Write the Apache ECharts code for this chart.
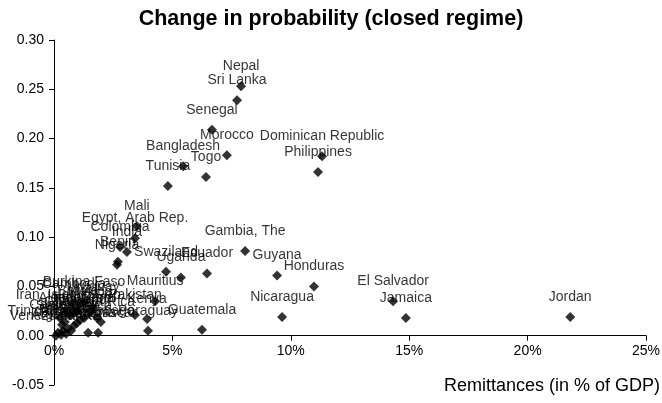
<!DOCTYPE html>
<html>
<head>
<meta charset="utf-8">
<script src="https://cdn.jsdelivr.net/npm/echarts@6/dist/echarts.min.js"></script>
<style>html,body{margin:0;padding:0;background:#fff}#c{width:662px;height:403px}</style>
</head>
<body>
<div id="c"></div>
<script>
// Country names, remittances (% of GDP) and change in probability
const countries = [
  "Nepal","Sri Lanka","Senegal","Morocco","Togo","Bangladesh","Tunisia",
  "Dominican Republic","Philippines","Gambia, The","Guyana","Honduras",
  "Nicaragua","El Salvador","Jamaica","Jordan",
  "Mali","Egypt, Arab Rep.","Colombia","India","Benin","Nigeria",
  "Swaziland","Uganda","Ecuador","Mauritius","Pakistan","Kenya","Paraguay","Guatemala",
  "Burkina Faso","Cambodia","Iran, Islamic Rep.","Trinidad and Tobago","Venezuela, RB",
  "Brazil","Argentina","China","Chile","Malaysia","South Africa","Turkey","Thailand",
  "Indonesia","Tanzania","Madagascar","Costa Rica","Peru","Mexico","Algeria","Ghana",
  "Bolivia","Cameroon","Uruguay"
];
const remittances = [
  7.90,7.73,6.67,7.30,6.42,5.45,4.81,
  11.32,11.15,8.07,9.42,10.98,
  9.63,14.32,14.86,21.80,
  3.50,3.42,2.79,3.08,2.70,2.66,
  4.73,5.36,6.46,4.27,3.42,3.93,3.97,6.25,
  1.27,0.84,0.68,0.72,0.08,
  0.17,0.30,0.38,0.51,0.59,0.84,0.97,1.10,
  1.27,1.44,1.86,1.98,1.82,1.52,0.25,0.46,
  1.01,0.34,1.65
];
const probChange = [
  0.253,0.239,0.209,0.183,0.161,0.172,0.152,
  0.182,0.166,0.086,0.061,0.050,
  0.019,0.035,0.018,0.019,
  0.111,0.099,0.090,0.085,0.075,0.072,
  0.065,0.059,0.063,0.035,0.021,0.017,0.005,0.006,
  0.034,0.032,0.021,0.005,0.000,
  0.003,0.001,0.005,0.002,0.007,0.010,0.013,0.016,
  0.018,0.003,0.003,0.014,0.018,0.024,0.018,0.014,
  0.025,0.011,0.029
];
const yTicks = [-0.05,0,0.05,0.10,0.15,0.20,0.25,0.30];
const xTicks = [0,5,10,15,20,25];

const pts = countries.map((n,i)=>({name:n, value:[remittances[i], probChange[i]]}));
const FONT = '"Liberation Sans", Arial, sans-serif';

const GRID = {left:54,right:16,top:40,bottom:18};
const H = 403;
const yMin = yTicks[0], yMax = yTicks[yTicks.length-1];
const gridH = H - GRID.top - GRID.bottom;
// move the x axis up so that it crosses the y axis at 0
const xAxisOffset = -((0 - yMin) / (yMax - yMin)) * gridH;

const chart = echarts.init(document.getElementById('c'), null, {renderer:'canvas'});
chart.setOption({
  animation:false,
  backgroundColor:'#fff',
  title:{
    text:'Change in probability (closed regime)',
    left:'center', top:3,
    textStyle:{fontFamily:FONT,fontSize:21.5,fontWeight:'bold',color:'#000'}
  },
  grid:Object.assign({containLabel:false, outerBoundsMode:'none'}, GRID),
  xAxis:{
    type:'value', min:xTicks[0], max:xTicks[xTicks.length-1], interval:5,
    position:'bottom', offset:xAxisOffset,
    axisLine:{show:true,onZero:false,lineStyle:{color:'#000',width:1}},
    axisTick:{show:true,length:5,inside:false,lineStyle:{color:'#000'}},
    axisLabel:{formatter:'{value}%',margin:8,fontFamily:FONT,fontSize:14,color:'#000'},
    splitLine:{show:false}
  },
  yAxis:{
    type:'value', min:yMin, max:yMax, interval:0.05,
    axisLine:{show:true,onZero:false,lineStyle:{color:'#000',width:1}},
    axisTick:{show:true,length:5,lineStyle:{color:'#000'}},
    axisLabel:{formatter:v=>v.toFixed(2),margin:10,fontFamily:FONT,fontSize:14,color:'#000'},
    splitLine:{show:false}
  },
  graphic:[{
    type:'text', right:2, top:377,
    style:{text:'Remittances (in % of GDP)',font:'18px '+FONT,fill:'#000'}
  }],
  series:[{
    type:'scatter',
    symbol:'diamond',
    symbolSize:10,
    itemStyle:{color:'#000'},
    label:{
      show:true, position:'top', distance:8,
      formatter:'{b}',
      fontFamily:FONT, fontSize:14, color:'#000'
    },
    labelLayout:{hideOverlap:false},
    data:pts
  }]
});
</script>
</body>
</html>
